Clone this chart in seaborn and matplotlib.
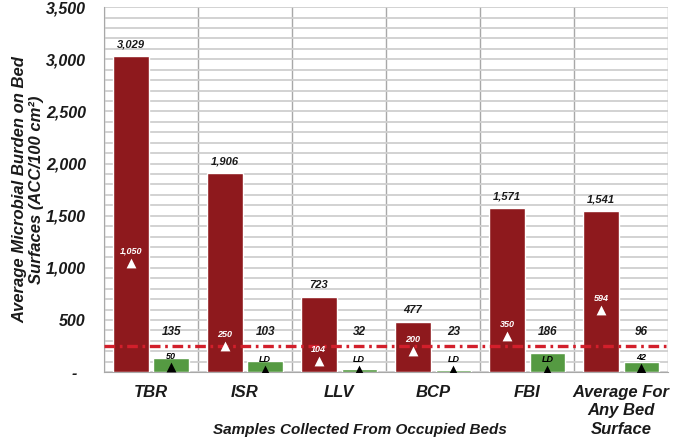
import numpy as np
import pandas as pd
import matplotlib
matplotlib.use("Agg")
import matplotlib.pyplot as plt
import seaborn as sns

# data
categories = ["TBR", "ISR", "LLV", "BCP", "FBI", "Average For\nAny Bed\nSurface"]
red_values = [3029, 1906, 723, 477, 1571, 1541]
green_values = [135, 103, 32, 23, 186, 96]
red_markers = [1050, 250, 104, 200, 350, 594]
green_markers = [50, 20, 20, 20, 20, 42]
green_marker_text = ["50", "LD", "LD", "LD", "LD", "42"]
threshold = 250
green_label_height = 330

red_color = "#8e191d"
green_color = "#559a42"

sns.set_style("white")
plt.rcParams["font.family"] = ["Liberation Sans", "DejaVu Sans"]

df = pd.DataFrame({
    "category": categories * 2,
    "value": red_values + green_values,
    "series": ["red"] * len(categories) + ["green"] * len(categories),
})

fig = plt.figure(figsize=(6.75, 4.44), dpi=100)
ax = fig.add_axes([0.154, 0.162, 0.836, 0.822])

sns.barplot(data=df, x="category", y="value", hue="series",
            palette={"red": red_color, "green": green_color}, saturation=1,
            width=0.86, gap=0.12, legend=False, ax=ax, zorder=3)

ax.set_xlim(-0.5, len(categories) - 0.5)
ax.set_ylim(0, 3500)

# grid: horizontal every 100, vertical separators between categories
ax.set_yticks(np.arange(0, 3501, 500))
ax.set_yticks(np.arange(0, 3501, 100), minor=True)
ax.set_xticks(np.arange(-0.5, len(categories), 1), minor=True)
ax.grid(which="minor", axis="y", color="#cfcfcf", linewidth=1.3, zorder=0)
ax.grid(which="major", axis="y", color="#cfcfcf", linewidth=1.3, zorder=0)
ax.grid(which="minor", axis="x", color="#a8a8a8", linewidth=1.0, zorder=0)
ax.set_axisbelow(True)

for s in ["top", "right"]:
    ax.spines[s].set_visible(False)
ax.spines["left"].set_color("#a8a8a8")
ax.spines["bottom"].set_color("#a8a8a8")

ylabels = ["-  "] + [f"{v:,}" for v in range(500, 3501, 500)]
ax.set_yticklabels(ylabels)
ax.tick_params(axis="y", which="both", length=0, pad=13, labelsize=11.5)
ax.tick_params(axis="x", which="major", length=0, pad=9, labelsize=12)
ax.tick_params(axis="x", which="minor", length=5, color="#a8a8a8", width=1)
for lab in ax.get_yticklabels() + ax.get_xticklabels():
    lab.set_fontweight("bold")
    lab.set_fontstyle("italic")
    lab.set_color("#1a1a1a")
for lab in ax.get_xticklabels():
    lab.set_linespacing(1.3)
    lab.set_verticalalignment("top")

ax.set_xlabel("")
ax.set_ylabel("")

red_bars = ax.containers[0]
green_bars = ax.containers[1]
red_x = [p.get_x() + p.get_width() / 2 for p in red_bars]
green_x = [p.get_x() + p.get_width() / 2 for p in green_bars]

# threshold line
ax.axhline(threshold, color="#d21f2b", linewidth=2.4, linestyle=(0, (3.2, 1.4, 0.8, 1.4)), zorder=4)

# value labels
for x, v in zip(red_x, red_values):
    ax.annotate(f"{v:,}", (x, v), xytext=(0, 5), textcoords="offset points",
                ha="center", va="bottom", fontsize=8, fontweight="bold",
                fontstyle="italic", color="#1a1a1a", zorder=5)
for x, v in zip(green_x, green_values):
    ax.text(x, green_label_height, f"{v:,}", ha="center", va="bottom",
            fontsize=8.5, fontweight="bold", fontstyle="italic", color="#1a1a1a", zorder=5)

# triangle markers
ax.scatter(red_x, red_markers, marker="^", s=50, color="white", zorder=6, linewidths=0)
for x, v in zip(red_x, red_markers):
    ax.annotate(f"{v:,}", (x, v), xytext=(0, 5), textcoords="offset points",
                ha="center", va="bottom", fontsize=6.5, fontweight="bold",
                fontstyle="italic", color="white", zorder=6)
ax.scatter(green_x, green_markers, marker="^", s=50, color="black", zorder=6, linewidths=0)
for x, v, t in zip(green_x, green_markers, green_marker_text):
    ax.annotate(t, (x, v), xytext=(0, 4), textcoords="offset points",
                ha="center", va="bottom", fontsize=6.5, fontweight="bold",
                fontstyle="italic", color="black", zorder=6)

fig.text(28 / 675, 0.573, "Average Microbial Burden on Bed\nSurfaces (ACC/100 cm²)",
         rotation=90, ha="center", va="center", fontsize=12, fontweight="bold",
         fontstyle="italic", color="#1a1a1a", linespacing=1.1)
fig.text(360 / 675, 0.032, "Samples Collected From Occupied Beds", ha="center", va="center",
         fontsize=11, fontweight="bold", fontstyle="italic", color="#1a1a1a")

fig.savefig("out.png", dpi=100)
